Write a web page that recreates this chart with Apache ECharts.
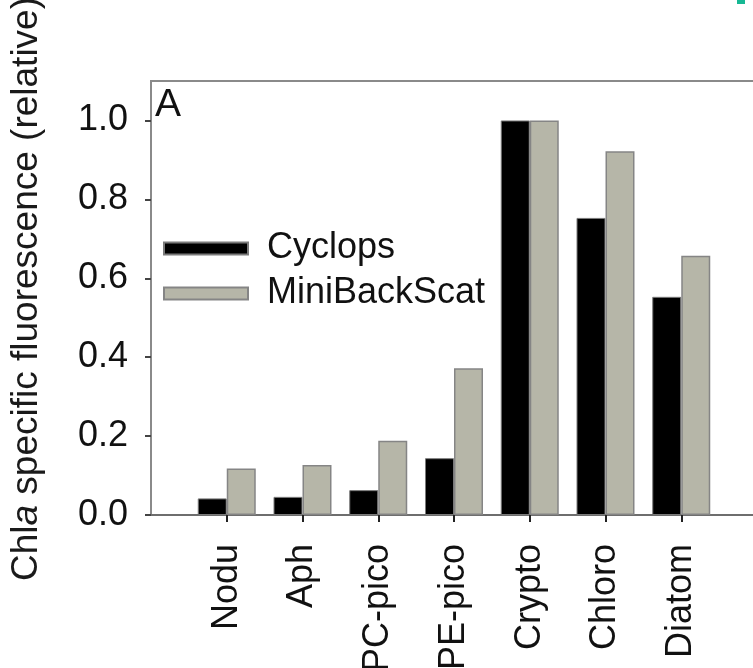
<!DOCTYPE html>
<html>
<head>
<meta charset="utf-8">
<script src="https://cdn.jsdelivr.net/npm/echarts@6/dist/echarts.min.js"></script>
<style>
html,body{margin:0;padding:0;background:#fff;}
#chart{width:753px;height:668px;}
</style>
</head>
<body>
<div id="chart"></div>
<script>
const categories = ['Nodu', 'Aph', 'PC-pico', 'PE-pico', 'Crypto', 'Chloro', 'Diatom'];
const cyclops = [0.042, 0.046, 0.063, 0.144, 1.0, 0.753, 0.553];
const miniBackScat = [0.118, 0.127, 0.188, 0.372, 1.0, 0.922, 0.657];
const yTicks = [0, 0.2, 0.4, 0.6, 0.8, 1.0];
const seriesNames = ['Cyclops', 'MiniBackScat'];

const axisCats = [''].concat(categories, ['']);
const pad = v => ['-'].concat(v, ['-']);

const FONT = '"Liberation Sans", Arial, Helvetica, sans-serif';
const chart = echarts.init(document.getElementById('chart'), null, {renderer: 'canvas'});
chart.setOption({
  animation: false,
  backgroundColor: '#ffffff',
  textStyle: {fontFamily: FONT},
  grid: {
    left: 151, top: 81, right: -4, bottom: 153,
    containLabel: false, outerBoundsMode: 'none',
    show: true, borderColor: '#8a8a8a', borderWidth: 2, backgroundColor: 'transparent'
  },
  legend: {
    data: seriesNames,
    orient: 'vertical',
    left: 163, top: 230,
    itemWidth: 84, itemHeight: 12, itemGap: 8,
    icon: 'rect',
    padding: 0,
    textStyle: {fontSize: 36, lineHeight: 37, color: '#111', fontFamily: FONT, padding: [0, 0, 0, 14]}
  },
  xAxis: {
    type: 'category',
    data: axisCats,
    boundaryGap: false,
    axisLine: {lineStyle: {color: '#6e6e6e', width: 2}},
    axisTick: {
      show: true, length: 7, inside: false,
      interval: function (i) { return i > 0 && i < axisCats.length - 1; },
      lineStyle: {color: '#222', width: 2}
    },
    axisLabel: {
      interval: 0, rotate: 90, margin: 29,
      fontSize: 36, color: '#111', fontFamily: FONT
    },
    splitLine: {show: false}
  },
  yAxis: {
    type: 'value',
    min: 0, max: 1.1, interval: 0.2,
    name: '{n|Chl}{i|a}{n| specific fluorescence (relative)}',
    nameLocation: 'middle',
    nameGap: 106,
    nameTextStyle: {
      padding: [0, 0, 0, 18],
      rich: {
        n: {fontSize: 37, color: '#1a1a1a', fontFamily: FONT},
        i: {fontSize: 37, color: '#1a1a1a', fontFamily: FONT, fontStyle: 'italic'}
      }
    },
    axisLine: {show: true, lineStyle: {color: '#8a8a8a', width: 2}},
    axisTick: {show: true, length: 6, inside: false, customValues: yTicks, lineStyle: {color: '#444', width: 2}},
    axisLabel: {
      customValues: yTicks, margin: 23,
      fontSize: 36, color: '#111', fontFamily: FONT,
      formatter: v => v.toFixed(1)
    },
    splitLine: {show: false}
  },
  series: [
    {
      name: seriesNames[0], type: 'bar', data: pad(cyclops),
      barWidth: 29, barGap: '0%',
      itemStyle: {color: '#000000', borderColor: '#7a7a7a', borderWidth: 1}
    },
    {
      name: seriesNames[1], type: 'bar', data: pad(miniBackScat),
      barWidth: 29, barGap: '0%',
      itemStyle: {color: '#b6b6a8', borderColor: '#858585', borderWidth: 1.5}
    }
  ],
  graphic: [
    {type: 'text', left: 155, top: 86, style: {text: 'A', fontSize: 39, fill: '#111', fontFamily: FONT}},
    {type: 'rect', shape: {x: 737, y: 0, width: 8, height: 4}, style: {fill: '#16b894'}}
  ]
});
</script>
</body>
</html>
